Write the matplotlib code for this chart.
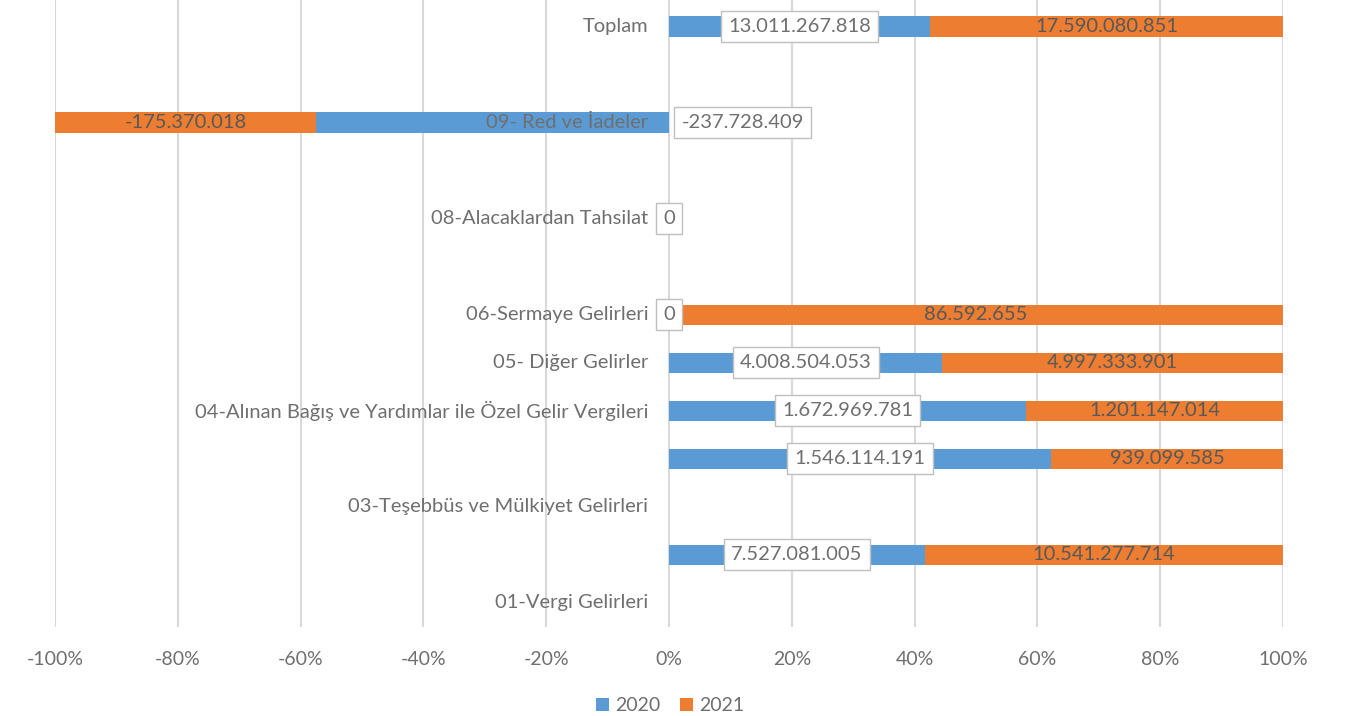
import numpy as np
import matplotlib
matplotlib.use("Agg")
import matplotlib.pyplot as plt

plt.rcParams['font.family'] = ['Lato', 'DejaVu Sans']

# rows from bottom to top, as they sit in the picture
kategoriler = ['01-Vergi Gelirleri', '', '03-Teşebbüs ve Mülkiyet Gelirleri', '',
               '04-Alınan Bağış ve Yardımlar ile Özel Gelir Vergileri',
               '05- Diğer Gelirler', '06-Sermaye Gelirleri', '',
               '08-Alacaklardan Tahsilat', '', '09- Red ve İadeler', '', 'Toplam']
y2020 = [None, 7527081005, None, 1546114191, 1672969781, 4008504053, 0,
         None, 0, None, -237728409, None, 13011267818]
y2021 = [None, 10541277714, None, 939099585, 1201147014, 4997333901, 86592655,
         None, None, None, -175370018, None, 17590080851]

mavi = '#5B9BD5'
turuncu = '#ED7D31'
gri = '#595959'
acik_gri = '#6F6F6F'


def fmt(v):
    return '{:,}'.format(int(v)).replace(',', '.')


fig = plt.figure(figsize=(13.63, 7.16), dpi=100)
ax = fig.add_axes([0.0404, 0.1243, 0.9009, 0.8757])

yy = np.arange(len(kategoriler))
a = np.array([np.nan if v is None else v for v in y2020], dtype=float)
b = np.array([np.nan if v is None else v for v in y2021], dtype=float)
top = np.nan_to_num(a) + np.nan_to_num(b)
with np.errstate(invalid='ignore', divide='ignore'):
    pa = np.where(top != 0, np.nan_to_num(a) / np.abs(top) * 100, 0)
    pb = np.where(top != 0, np.nan_to_num(b) / np.abs(top) * 100, 0)

h = 0.42
ax.barh(yy, pa, height=h, color=mavi, zorder=2, label='2020')
ax.barh(yy, pb, left=pa, height=h, color=turuncu, zorder=2, label='2021')

fs = 14.5
kutu = dict(boxstyle='square,pad=0.35', fc='white', ec='#BFBFBF', lw=1)
for i in range(len(yy)):
    if not np.isnan(a[i]):
        if a[i] < 0:
            ax.text(2.0, yy[i], fmt(a[i]), ha='left', va='center', fontsize=fs,
                    color=acik_gri, bbox=kutu, zorder=5)
        else:
            ax.text(pa[i] / 2, yy[i], fmt(a[i]), ha='center', va='center', fontsize=fs,
                    color=acik_gri, bbox=kutu, zorder=5)
    if not np.isnan(b[i]):
        ax.text(pa[i] + pb[i] / 2, yy[i], fmt(b[i]), ha='center', va='center',
                fontsize=fs, color=gri, zorder=5)

# category names right-aligned at zero, drawn on top of bars
for i, k in enumerate(kategoriler):
    ax.text(-3.4, yy[i], k, ha='right', va='center', fontsize=fs, color=acik_gri, zorder=4)

ax.set_xlim(-100, 100)
ax.set_ylim(-0.5, 12.55)
ax.set_xticks(np.arange(-100, 101, 20))
ax.set_xticklabels([f'{t}%' for t in range(-100, 101, 20)], fontsize=14, color=acik_gri)
ax.set_yticks([])
ax.tick_params(axis='x', length=0, pad=17)
ax.grid(axis='x', color='#D9D9D9', lw=1.5, zorder=0)
for s in ax.spines.values():
    s.set_visible(False)

fig.legend(loc='center', bbox_to_anchor=(0.4916, 0.0140), ncol=2, frameon=False,
           fontsize=14, labelcolor=acik_gri, handlelength=0.7, handleheight=0.7,
           handletextpad=0.3, columnspacing=1.0)

fig.savefig('out.png', dpi=100)
